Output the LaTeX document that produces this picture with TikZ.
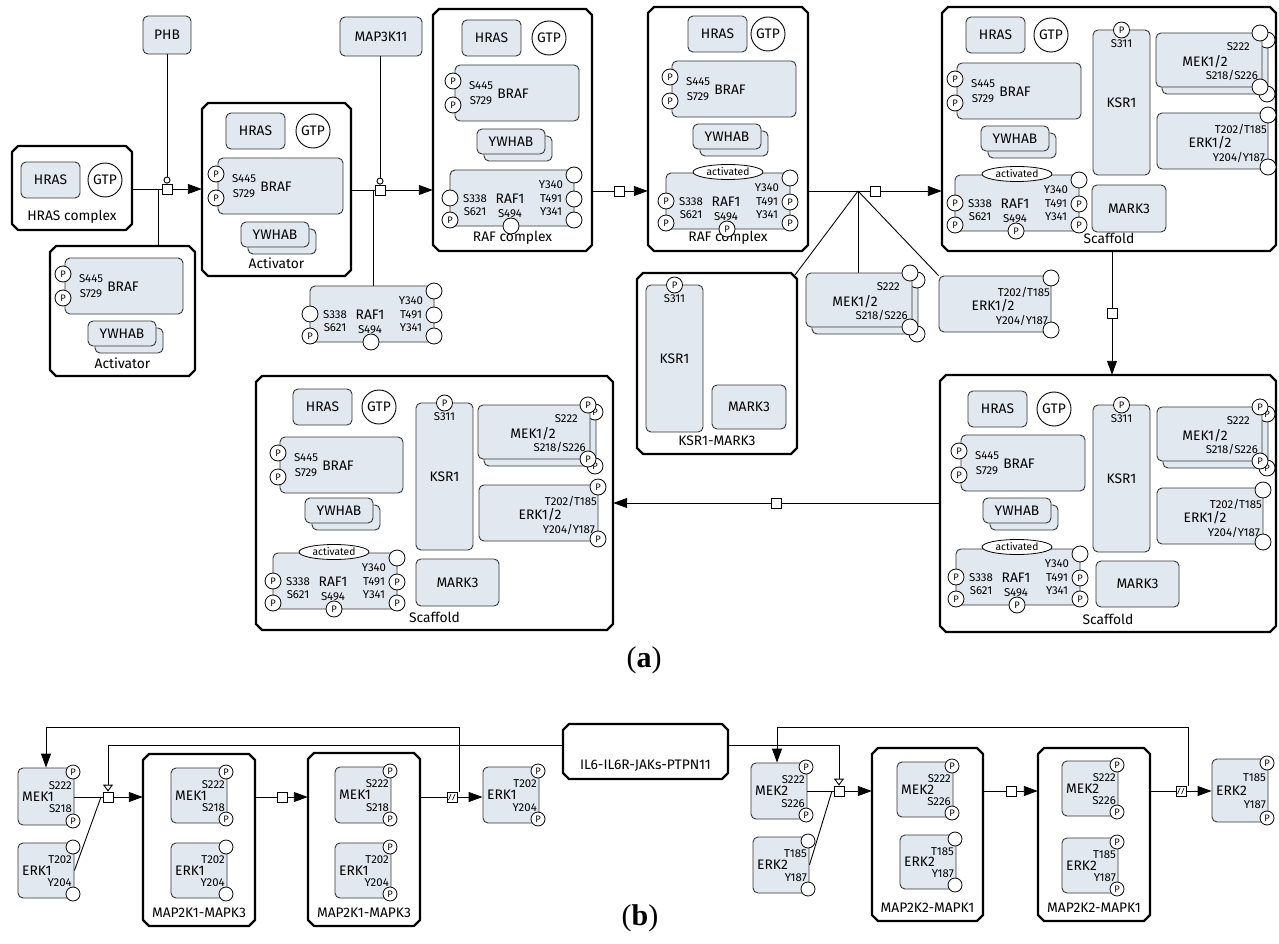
\documentclass[tikz,border=0pt]{standalone}
\usepackage{fontspec}
\setmainfont{Fira Sans}
\newfontfamily\serifont{Liberation Serif}
\usetikzlibrary{arrows.meta,shapes.geometric,fit,calc}
\definecolor{molfill}{RGB}{226,232,240}
\definecolor{molline}{RGB}{55,55,55}
\newcommand\fntL{\fontsize{13.8}{15}\selectfont}
\newcommand\fntS{\fontsize{11.4}{12}\selectfont}
\newcommand\fntP{\fontsize{9.4}{9.4}\selectfont}
\tikzset{
 mol/.style={draw=molline, fill=molfill, rounded corners=5pt, line width=0.9pt, inner sep=0pt},
 comp/.style={draw=black, line width=2.4pt, fill=white, line join=miter},
 sv/.style={circle, draw=black, fill=white, line width=0.8pt, minimum size=16pt, inner sep=0pt, font=\fntP},
 bsv/.style={sv, minimum size=14pt},
 lbl/.style={inner sep=0pt, font=\fntL},
 site/.style={inner sep=0pt, font=\fntS},
 chem/.style={circle, draw=black, fill=white, line width=0.9pt, minimum size=34pt, inner sep=0pt, font=\fntL},
 actv/.style={ellipse, draw=black, fill=white, line width=0.8pt, minimum width=70pt, minimum height=15pt, inner sep=0pt, font=\fontsize{10.3}{11}\selectfont},
 proc/.style={draw=black, fill=white, minimum size=10pt, inner sep=0pt, line width=0.8pt},
 conn/.style={line width=0.9pt},
 prod/.style={conn, -{Triangle[length=14pt,width=10pt]}},
 stim/.style={conn, -{Triangle[open,length=7pt,width=10pt]}},
 cata/.style={conn, -{Circle[open,length=7pt]}},
}
% compartment: name x1 y1 x2 y2 label
\newcommand{\compt}[6]{%
 \draw[comp] (#2+6,#3) -- (#4-6,#3) -- (#4,#3+6) -- (#4,#5-6) -- (#4-6,#5) -- (#2+6,#5) -- (#2,#5-6) -- (#2,#3+6) -- cycle;
 \node[fit={(#2,#3) (#4,#5)}, inner sep=0pt] (#1) {};
 \node[lbl] (#1l) at ({(#2+#4)/2},#5-13) {#6};
}
% HRAS + GTP: prefix x1 y1 gx gy
\newcommand{\hrasgtp}[5]{%
 \node[mol, fit={(#2,#3) (#2+59,#3+36)}] (#1hras) {};
 \node[lbl] (#1hrasl) at (#2+29.5,#3+18) {HRAS};
 \node[chem] (#1gtp) at (#4,#5) {GTP};
}
% BRAF: prefix x1 y1 w
\newcommand{\braf}[4]{%
 \node[mol, fit={(#2,#3) (#2+#4,#3+56)}] (#1braf) {};
 \node[site] (#1s445) at (#2+26,#3+21) {S445};
 \node[site] (#1s729) at (#2+26,#3+36) {S729};
 \node[lbl] (#1brafl) at (#2+58,#3+29) {BRAF};
 \node[sv] (#1bp1) at (#2-2,#3+16) {P};
 \node[sv] (#1bp2) at (#2-2,#3+40) {P};
}
% YWHAB multimer: prefix x1 y1
\newcommand{\ywhab}[3]{%
 \node[mol, fit={(#2+7,#3+7) (#2+75,#3+32)}] (#1ywb) {};
 \node[mol, fit={(#2,#3) (#2+68,#3+25)}] (#1yw) {};
 \node[lbl] (#1ywl) at (#2+34,#3+12.5) {YWHAB};
}
% RAF1: prefix x1 y1 S338 S621 S494 Y340 T491 Y341
\newcommand{\rafone}[9]{%
 \node[mol, fit={(#2,#3) (#2+124,#3+56)}] (#1raf) {};
 \node[site] (#1l338) at (#2+25,#3+29) {S338};
 \node[site] (#1l621) at (#2+25,#3+42) {S621};
 \node[lbl] (#1rafl) at (#2+60,#3+29) {RAF1};
 \node[site] (#1l494) at (#2+60,#3+44) {S494};
 \node[site] (#1l340) at (#2+101,#3+15) {Y340};
 \node[site] (#1l491) at (#2+101,#3+29) {T491};
 \node[site] (#1l341) at (#2+101,#3+42) {Y341};
 \node[sv] (#1ra) at (#2,#3+28) {#4};
 \node[sv] (#1rb) at (#2,#3+50) {#5};
 \node[sv] (#1rc) at (#2+61,#3+56) {#6};
 \node[sv] (#1rd) at (#2+124,#3+5) {#7};
 \node[sv] (#1re) at (#2+124,#3+29) {#8};
 \node[sv] (#1rf) at (#2+124,#3+50) {#9};
}
% KSR1: prefix x1 y1 h
\newcommand{\ksr}[4]{%
 \node[mol, fit={(#2,#3) (#2+57,#3+#4)}] (#1ksr) {};
 \node[site] (#1s311) at (#2+28.5,#3+14) {S311};
 \node[lbl] (#1ksrl) at (#2+28.5,#3+#4/2) {KSR1};
 \node[sv] (#1ksrp) at (#2+28.5,#3) {P};
}
% MARK3: prefix x1 y1 x2 y2
\newcommand{\mkthree}[5]{%
 \node[mol, fit={(#2,#3) (#4,#5)}] (#1mk) {};
 \node[lbl] (#1mkl) at ({(#2+#4)/2},{(#3+#5)/2}) {MARK3};
}
% MEK1/2 multimer: prefix x1 y1 w state
\newcommand{\mekab}[5]{%
 \node[mol, fit={(#2+6,#3+7) (#2+#4+6,#3+61)}] (#1mekb) {};
 \node[sv] (#1mekb1) at (#2+#4+5,#3+7) {#5};
 \node[sv] (#1mekb2) at (#2+#4+5,#3+61) {#5};
 \node[mol, fit={(#2,#3) (#2+#4,#3+54)}] (#1mek) {};
 \node[site, anchor=east] (#1s222) at (#2+#4-12,#3+14) {S222};
 \node[lbl] (#1mekl) at (#2+#4-57,#3+29) {MEK1/2};
 \node[site, anchor=east] (#1s218) at (#2+#4-4,#3+42) {S218/S226};
 \node[sv] (#1mek1) at (#2+#4-2,#3) {#5};
 \node[sv] (#1mek2) at (#2+#4-2,#3+54) {#5};
}
% ERK1/2: prefix x1 y1 w state
\newcommand{\erkab}[5]{%
 \node[mol, fit={(#2,#3) (#2+#4,#3+56)}] (#1erk) {};
 \node[site, anchor=east] (#1t202) at (#2+#4-1,#3+16) {T202/T185};
 \node[lbl] (#1erkl) at (#2+#4-58,#3+30) {ERK1/2};
 \node[site, anchor=east] (#1y204) at (#2+#4-3,#3+44) {Y204/Y187};
 \node[sv] (#1erk1) at (#2+#4,#3+2) {#5};
 \node[sv] (#1erk2) at (#2+#4,#3+54) {#5};
}
% part b molecule: name x1 y1 h label site1 site2 st1 st2
\newcommand{\bmol}[9]{%
 \node[mol, fit={(#2,#3) (#2+56,#3+#4)}] (#1) {};
 \node[site, anchor=east] (#1s1) at (#2+54,#3+#4*0.3) {#6};
 \node[lbl, anchor=west] (#1l) at (#2+4,#3+#4*0.5) {#5};
 \node[site, anchor=east] (#1s2) at (#2+54,#3+#4*0.72) {#7};
 \node[bsv] (#1c1) at (#2+55,#3+4) {#8};
 \node[bsv] (#1c2) at (#2+55,#3+#4-4) {#9};
}
\begin{document}
\begin{tikzpicture}[x=1pt,y=-1pt]
\useasboundingbox[fill=white] (0,0) rectangle (1279,944);

% ================= (a) compartments
\compt{hrascx}{12}{146}{132}{230}{HRAS complex}
\compt{act1}{50}{246}{195}{376}{Activator}
\compt{act2}{202}{103}{351}{276}{Activator}
\compt{rafc1}{433}{9}{592}{251}{RAF complex}
\compt{rafc2}{648}{7}{808}{251}{RAF complex}
\compt{sc1}{942}{7}{1276}{251}{Scaffold}
\compt{ksrmark}{637}{273}{797}{454}{KSR1-MARK3}
\compt{sc3}{940}{375}{1276}{632}{Scaffold}
\compt{sc2}{256}{376}{613}{630}{Scaffold}

% HRAS complex
\hrasgtp{hc}{21}{162}{105}{180}
% Activator (left)
\braf{al}{65}{258}{118}
\ywhab{al}{88}{321}
% Activator (middle)
\hrasgtp{am}{226}{113}{313}{131}
\braf{am}{218}{158}{125}
\ywhab{am}{241}{222}
% RAF complex 1
\hrasgtp{ra}{462}{20}{549}{38}
\braf{ra}{455}{65}{124}
\ywhab{ra}{477}{129}
\rafone{ra}{450}{170}{}{P}{}{}{}{}
% RAF complex 2
\hrasgtp{rb}{688}{16}{768}{34}
\braf{rb}{672}{61}{124}
\ywhab{rb}{693}{124}
\rafone{rb}{666}{173}{P}{P}{P}{}{P}{P}
\node[actv] (rbact) at (728,172) {activated};
% Scaffold 1
\hrasgtp{sa}{966}{17}{1051}{35}
\braf{sa}{957}{63}{124}
\ywhab{sa}{981}{126}
\rafone{sa}{955}{175}{P}{P}{P}{}{P}{P}
\node[actv] (saact) at (1017,174) {activated};
\ksr{sa}{1093}{30}{145}
\mkthree{sa}{1092}{185}{1166}{232}
\mekab{sa}{1156}{33}{106}{}
\erkab{sa}{1157}{113}{111}{}
% Scaffold 3
\hrasgtp{sc}{968}{391}{1054}{409}
\braf{sc}{961}{435}{124}
\ywhab{sc}{983}{498}
\rafone{sc}{956}{549}{P}{P}{P}{}{P}{P}
\node[actv] (scact) at (1017,547) {activated};
\ksr{sc}{1093}{405}{147}
\mkthree{sc}{1096}{561}{1179}{607}
\mekab{sc}{1157}{407}{105}{P}
\erkab{sc}{1157}{488}{106}{}
% Scaffold 2
\hrasgtp{sb}{293}{389}{379}{407}
\braf{sb}{280}{437}{123}
\ywhab{sb}{305}{498}
\rafone{sb}{273}{553}{P}{P}{P}{}{P}{P}
\node[actv] (sbact) at (334,552) {activated};
\ksr{sb}{416}{403}{147}
\mkthree{sb}{416}{559}{499}{606}
\mekab{sb}{478}{405}{112}{P}
\erkab{sb}{479}{485}{119}{P}
% KSR1-MARK3
\ksr{km}{646}{285}{147}
\mkthree{km}{712}{385}{786}{429}
% free species
\node[mol, fit={(143,16) (191,54)}] (phb) {};
\node[lbl] (phbl) at (167,35) {PHB};
\node[mol, fit={(340,17) (422,56)}] (m3k) {};
\node[lbl] (m3kl) at (381,36.5) {MAP3K11};
\rafone{fr}{310}{286}{}{P}{}{}{}{}
\mekab{fm}{806}{273}{106}{}
\erkab{fe}{939}{276}{112}{}

% processes (a)
\node[proc] (p1) at (167,189) {};
\node[proc] (p2) at (380,190) {};
\node[proc] (p3) at (619,191) {};
\node[proc] (p4) at (875,191) {};
\node[proc] (p5) at (1112,313) {};
\node[proc] (p6) at (776,503) {};
\coordinate (j1) at (158,189);
\coordinate (j2) at (373,190);
\coordinate (j4) at (858,191);

\draw[cata] (phb.south -| p1) -- (p1.north);
\draw[conn] (hrascx.east |- j1) -- (p1.west);
\draw[conn] (act1.north -| j1) -- (j1);
\draw[prod] (p1.east) -- (act2.west |- p1);

\draw[cata] (m3k.south -| p2) -- (p2.north);
\draw[conn] (act2.east |- j2) -- (p2.west);
\draw[conn] (frraf.north -| j2) -- (j2);
\draw[prod] (p2.east) -- (rafc1.west |- p2);

\draw[conn] (rafc1.east |- p3) -- (p3.west);
\draw[prod] (p3.east) -- (rafc2.west |- p3);

\draw[conn] (rafc2.east |- p4) -- (p4.west);
\draw[conn] (j4) -- ($(ksrmark.north east)+(-2,2)$);
\draw[conn] (j4) -- (fmmek.north -| j4);
\draw[conn] (j4) -- (feerk.north west);
\draw[prod] (p4.east) -- (sc1.west |- p4);

\draw[conn] (sc1.south -| p5) -- (p5.north);
\draw[prod] (p5.south) -- (sc3.north -| p5);

\draw[conn] (sc3.west |- p6) -- (p6.east);
\draw[prod] (p6.west) -- (sc2.east |- p6);

\node[font=\serifont\fontsize{30}{31}\selectfont, inner sep=0pt] (laba) at (644,660) {(\textbf{a})};

% ================= (b)
\compt{cb1}{143}{754}{255}{926}{MAP2K1-MAPK3}
\compt{cb2}{308}{753}{420}{926}{MAP2K1-MAPK3}
\compt{cb3}{872}{748}{983}{921}{MAP2K2-MAPK1}
\compt{cb4}{1038}{748}{1150}{921}{MAP2K2-MAPK1}
\compt{il6}{563}{724}{728}{779}{IL6-IL6R-JAKs-PTPN11}

\bmol{mekaf}{18}{768}{57}{MEK1}{S222}{S218}{P}{P}
\bmol{erkaf}{18}{843}{55}{ERK1}{T202}{Y204}{}{}
\bmol{cbamek}{171}{768}{55}{MEK1}{S222}{S218}{P}{P}
\bmol{cbaerk}{171}{843}{55}{ERK1}{T202}{Y204}{}{}
\bmol{cbbmek}{335}{767}{56}{MEK1}{S222}{S218}{P}{P}
\bmol{cbberk}{335}{843}{55}{ERK1}{T202}{Y204}{P}{P}
\bmol{erkap}{483}{767}{56}{ERK1}{T202}{Y204}{P}{P}
\bmol{mekbf}{751}{763}{56}{MEK2}{S222}{S226}{P}{P}
\bmol{erkbf}{753}{837}{56}{ERK2}{T185}{Y187}{}{}
\bmol{cbcmek}{897}{762}{55}{MEK2}{S222}{S226}{P}{P}
\bmol{cbcerk}{900}{835}{54}{ERK2}{T185}{Y187}{}{}
\bmol{cbdmek}{1062}{761}{55}{MEK2}{S222}{S226}{P}{P}
\bmol{cbderk}{1062}{838}{55}{ERK2}{T185}{Y187}{P}{P}
\bmol{erkbp}{1212}{759}{63}{ERK2}{T185}{Y187}{P}{P}

\node[proc] (b1) at (108,797) {};
\node[proc] (b2) at (282,797) {};
\node[proc] (b3) at (452,797) {};
\node[proc] (b4) at (839,791) {};
\node[proc] (b5) at (1011,791) {};
\node[proc] (b6) at (1181,791) {};
\draw[line width=0.6pt] ($(b3.center)+(-3.5,3)$) -- ++(2.5,-6) ($(b3.center)+(0.5,3)$) -- ++(2.5,-6);
\draw[line width=0.6pt] ($(b6.center)+(-3.5,3)$) -- ++(2.5,-6) ($(b6.center)+(0.5,3)$) -- ++(2.5,-6);
\coordinate (jb1) at (101,797);
\coordinate (jb4) at (832,791);
\coordinate (ca) at (46,727);
\coordinate (cd) at (777,727);
\coordinate (cb) at (600,745);

\draw[conn] (mekaf.east |- b1) -- (b1.west);
\draw[conn] (erkaf.east) -- (jb1);
\draw[prod] (b1.east) -- (cb1.west |- b1);
\draw[conn] (cb1.east |- b2) -- (b2.west);
\draw[prod] (b2.east) -- (cb2.west |- b2);
\draw[conn] (cb2.east |- b3) -- (b3.west);
\draw[prod] (b3.east) -- (erkap.west |- b3);

\draw[conn] (mekbf.east |- b4) -- (b4.west);
\draw[conn] (erkbf.east) -- (jb4);
\draw[prod] (b4.east) -- (cb3.west |- b4);
\draw[conn] (cb3.east |- b5) -- (b5.west);
\draw[prod] (b5.east) -- (cb4.west |- b5);
\draw[conn] (cb4.east |- b6) -- (b6.west);
\draw[prod] (b6.east) -- (erkbp.west |- b6);

\draw[prod] ([xshift=2pt]b3.north east) |- (ca) -- (mekaf.north -| ca);
\draw[stim] (il6.west |- cb) -| (b1.north);
\draw[stim] (il6.east |- cb) -| (b4.north);
\draw[prod] ([xshift=2pt]b6.north east) |- (cd) -- (mekbf.north -| cd);

\node[font=\serifont\fontsize{30}{31}\selectfont, inner sep=0pt] (labb) at (640,918) {(\textbf{b})};
\end{tikzpicture}
\end{document}
